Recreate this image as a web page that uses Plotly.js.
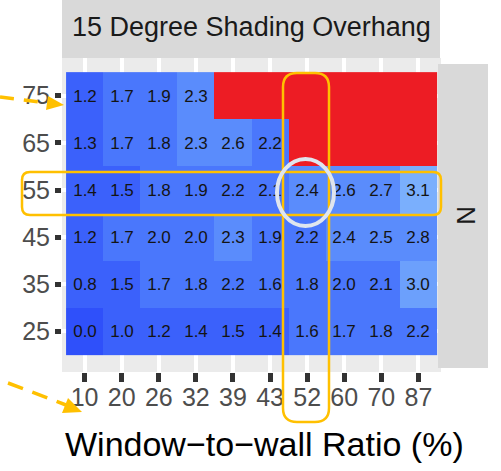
<!DOCTYPE html>
<html>
<head>
<meta charset="utf-8">
<script src="https://cdn.plot.ly/plotly-3.0.1.min.js"></script>
<style>html,body{margin:0;padding:0;background:#fff;}#chart{width:501px;height:471px;}</style>
</head>
<body>
<div id="chart"></div>
<script>
// ---- data ----
const wwrLabels = ['10','20','26','32','39','43','52','60','70','87'];
const shadeAngles = ['25','35','45','55','65','75'];
const row25 = [0.0, 1.0, 1.2, 1.4, 1.5, 1.4, 1.6, 1.7, 1.8, 2.2];
const row35 = [0.8, 1.5, 1.7, 1.8, 2.2, 1.6, 1.8, 2.0, 2.1, 3.0];
const row45 = [1.2, 1.7, 2.0, 2.0, 2.3, 1.9, 2.2, 2.4, 2.5, 2.8];
const row55 = [1.4, 1.5, 1.8, 1.9, 2.2, 2.1, 2.4, 2.6, 2.7, 3.1];
const row65 = [1.3, 1.7, 1.8, 2.3, 2.6, 2.2, null, null, null, null];
const row75 = [1.2, 1.7, 1.9, 2.3, null, null, null, null, null, null];
const facetTitle = '15 Degree Shading Overhang';
const facetRow = 'N';
const xTitle = 'Window\u2212to\u2212wall Ratio (%)';

const zRows = [row25, row35, row45, row55, row65, row75];
const textRows = zRows.map(r => r.map(v => v === null ? '' : v.toFixed(1)));
const naRows = zRows.map(r => r.map(v => v === null ? 1 : null));

// stepped blue scale
const zmax = 3.1;
const bins = [[0.4,'#2f50fa'],[1.55,'#3b61fb'],[2.25,'#4a77fc'],[2.9,'#5a8cfc'],[3.05,'#6ca0fc'],[3.1,'#7aaffd']];
const cs = [];
let prev = 0;
bins.forEach(([t,c]) => { cs.push([prev/zmax, c]); cs.push([Math.min(t/zmax,1), c]); prev = t; });
cs[cs.length-1][0] = 1;

// ---- geometry helpers (pixel -> paper) ----
const L = 62, T = 58, W = 379, H = 314;
const fx = px => (px - L) / W;
const fy = py => (T + H - py) / H;
function roundRect(x0, y0, x1, y1, r) {
  const P = (x, y) => fx(x) + ',' + fy(y);
  return 'M' + P(x0 + r, y0) + ' L' + P(x1 - r, y0) + ' Q' + P(x1, y0) + ' ' + P(x1, y0 + r) +
    ' L' + P(x1, y1 - r) + ' Q' + P(x1, y1) + ' ' + P(x1 - r, y1) +
    ' L' + P(x0 + r, y1) + ' Q' + P(x0, y1) + ' ' + P(x0, y1 - r) +
    ' L' + P(x0, y0 + r) + ' Q' + P(x0, y0) + ' ' + P(x0 + r, y0) + ' Z';
}
function tri(a, b, c) {
  const P = p => fx(p[0]) + ',' + fy(p[1]);
  return 'M' + P(a) + ' L' + P(b) + ' L' + P(c) + ' Z';
}
const gold = '#ffc000';
const FONT = 'Liberation Sans, Arial, sans-serif';

const traces = [
  {
    type: 'heatmap', x: wwrLabels, y: shadeAngles, z: naRows,
    colorscale: [[0,'#ed1c24'],[1,'#ed1c24']], showscale: false, hoverinfo: 'skip'
  },
  {
    type: 'heatmap', x: wwrLabels, y: shadeAngles, z: zRows,
    zmin: 0, zmax: zmax, colorscale: cs, showscale: false,
    text: textRows, texttemplate: '%{text}',
    textfont: {family: FONT, size: 17, color: '#141414'}
  }
];

const layout = {
  width: 501, height: 471,
  margin: {l: L, r: 501 - L - W, t: T, b: 471 - T - H, pad: 0},
  paper_bgcolor: '#ffffff', plot_bgcolor: '#ebebeb',
  font: {family: FONT},
  showlegend: false,
  xaxis: {
    type: 'category', range: [-0.61, 9.61], showgrid: true, gridcolor: '#ffffff', gridwidth: 4,
    zeroline: false, showline: false, ticks: 'outside', ticklen: 9, tickwidth: 5, tickcolor: '#333333',
    ticklabelstandoff: -6,
    tickfont: {family: FONT, size: 25, color: '#4d4d4d'}, fixedrange: true
  },
  yaxis: {
    type: 'category', range: [-0.86, 5.8], showgrid: true, gridcolor: '#ffffff', gridwidth: 4,
    zeroline: false, showline: false, ticks: 'outside', ticklen: 6, tickwidth: 5, tickcolor: '#333333',
    tickfont: {family: FONT, size: 25, color: '#4d4d4d'}, fixedrange: true
  },
  shapes: [
    {type: 'rect', xref: 'paper', yref: 'paper', x0: 0, x1: fx(440), y0: 1, y1: fy(0),
     fillcolor: '#d9d9d9', line: {width: 0}, layer: 'above'},
    {type: 'rect', xref: 'paper', yref: 'paper', x0: fx(438), x1: fx(488), y0: fy(368), y1: fy(64),
     fillcolor: '#d9d9d9', line: {width: 0}, layer: 'above'},
    {type: 'path', xref: 'paper', yref: 'paper', path: roundRect(22, 172, 441, 215, 8),
     line: {color: gold, width: 2.5}, layer: 'above'},
    {type: 'path', xref: 'paper', yref: 'paper', path: roundRect(283, 73, 329, 422, 14),
     line: {color: gold, width: 2.5}, layer: 'above'},
    {type: 'circle', xref: 'paper', yref: 'paper', x0: fx(277), x1: fx(334), y0: fy(226), y1: fy(159),
     line: {color: '#dfe5ee', width: 4}, layer: 'above'},
    {type: 'line', xref: 'paper', yref: 'paper', x0: fx(0), y0: fy(97), x1: fx(48), y1: fy(103),
     line: {color: gold, width: 3.5, dash: '14px,10px'}, layer: 'above'},
    {type: 'path', xref: 'paper', yref: 'paper', path: tri([64,105],[46,110],[48,96]),
     fillcolor: gold, line: {width: 0}, layer: 'above'},
    {type: 'line', xref: 'paper', yref: 'paper', x0: fx(8), y0: fy(383), x1: fx(66), y1: fy(405),
     line: {color: gold, width: 3.5, dash: '16px,10px'}, layer: 'above'},
    {type: 'path', xref: 'paper', yref: 'paper', path: tri([82,412],[62,413],[68,398]),
     fillcolor: gold, line: {width: 0}, layer: 'above'}
  ],
  annotations: [
    {xref: 'paper', yref: 'paper', x: fx(251), y: fy(27), text: facetTitle, showarrow: false,
     xanchor: 'center', yanchor: 'middle', font: {family: FONT, size: 27, color: '#1a1a1a'}},
    {xref: 'paper', yref: 'paper', x: fx(466), y: fy(215), text: facetRow, showarrow: false, textangle: 90,
     xanchor: 'center', yanchor: 'middle', font: {family: FONT, size: 26, color: '#1a1a1a'}},
    {xref: 'paper', yref: 'paper', x: fx(264), y: fy(444), text: xTitle, showarrow: false,
     xanchor: 'center', yanchor: 'middle', font: {family: FONT, size: 34, color: '#000000'}}
  ]
};

Plotly.newPlot('chart', traces, layout, {displayModeBar: false, staticPlot: true});
</script>
</body>
</html>
